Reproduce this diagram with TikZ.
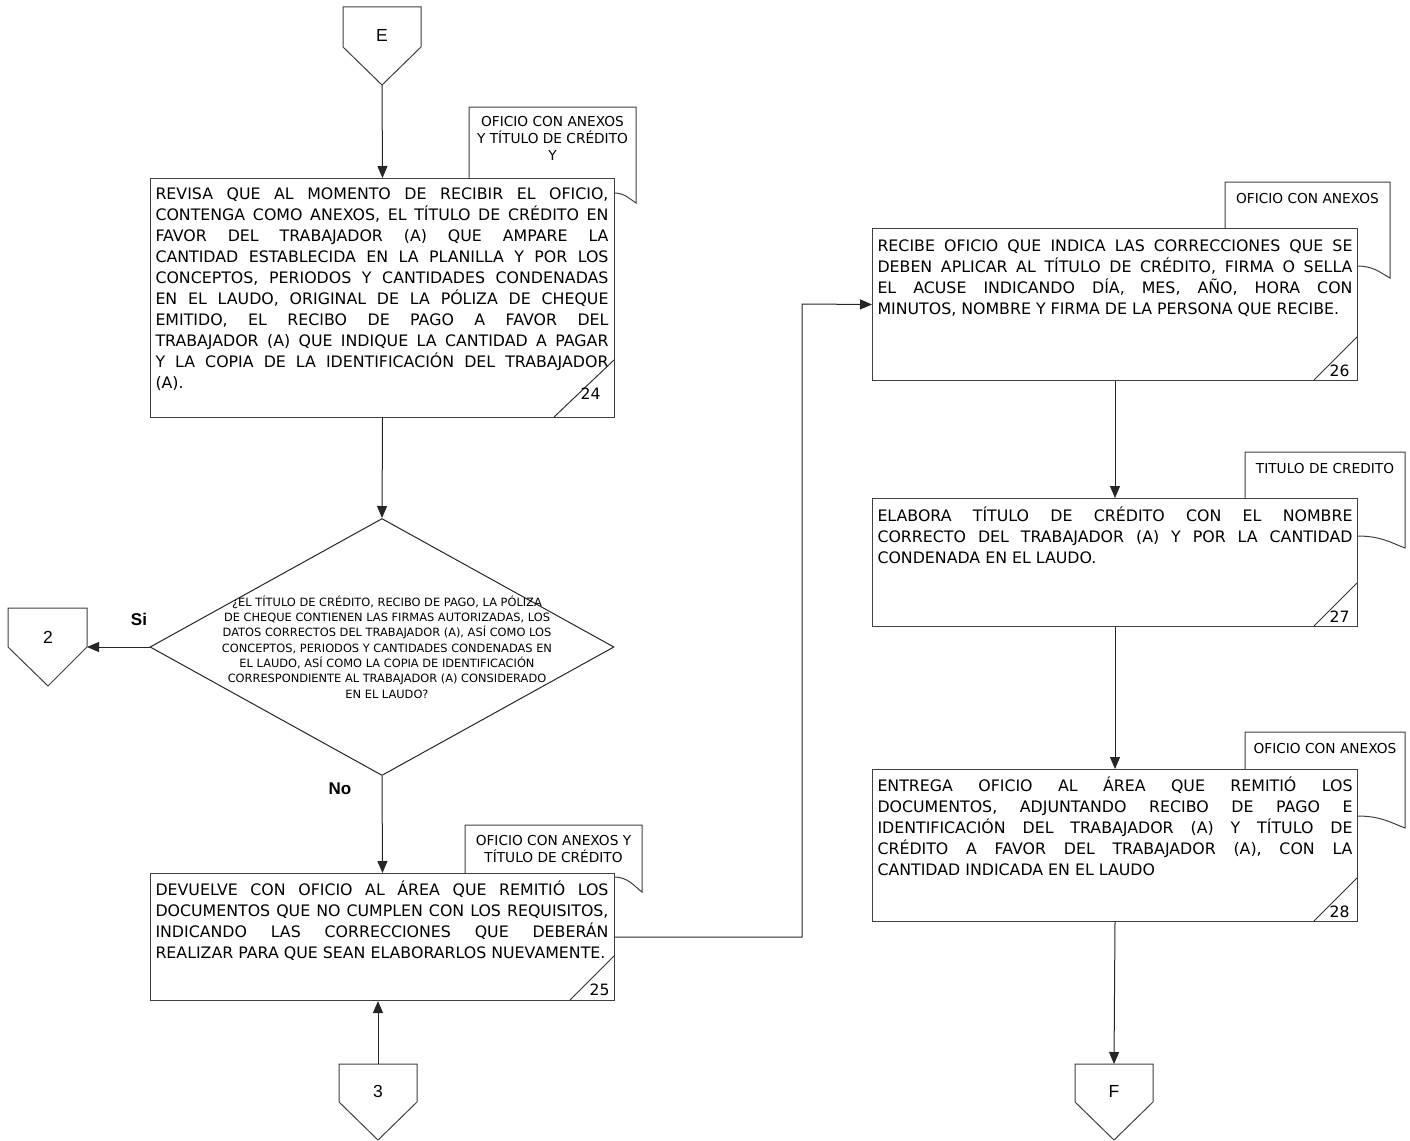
\documentclass[tikz,border=0pt]{standalone}
\usepackage{fontspec}
\setmainfont{DejaVu Sans}
\newfontfamily\arialfont{Liberation Sans}
\usetikzlibrary{shapes.geometric,arrows.meta}

\begin{document}
\begin{tikzpicture}[x=1pt, y=-1pt, line width=1pt,
  >={Triangle[length=12pt,width=10pt]},
  flowline/.style={draw=black!85, ->},
  procbox/.style={draw=black!75, fill=white, rectangle, inner sep=0pt, anchor=north west},
  proctext/.style={inner sep=0pt, anchor=base west, font=\fontsize{15.8}{21}\selectfont},
  doctag/.style={draw=black!75, fill=white},
  tagtext/.style={inner sep=0pt, anchor=north, align=center, font=\fontsize{13.7}{17}\selectfont},
  stepnum/.style={inner sep=0pt, anchor=base east, font=\fontsize{15.6}{18}\selectfont},
  offpage/.style={draw=black!75, fill=white},
  offlabel/.style={inner sep=0pt, font=\arialfont\fontsize{17.5}{20}\selectfont},
  answer/.style={inner sep=0pt, font=\arialfont\bfseries\fontsize{17}{20}\selectfont},
  decision/.style={draw=black!85, diamond, inner sep=0pt, minimum width=464pt, minimum height=257pt}]
  \useasboundingbox (0,0) rectangle (1410,1140);

  % documents behind the steps
  \draw[doctag] (469,107) -- (636,107) -- (636,203) .. controls (629.1,198.5) and (624.5,193) .. (614,193) -- (469,193) -- cycle;
  \node[tagtext] (t24) at (552.5,116) {OFICIO CON ANEXOS\\Y TÍTULO DE CRÉDITO\\Y};
  \draw[doctag] (465,825) -- (642,825) -- (642,892) .. controls (633.3,885.2) and (627.5,877) .. (614,877) -- (465,877) -- cycle;
  \node[tagtext] (t25) at (553.5,835) {OFICIO CON ANEXOS Y\\TÍTULO DE CRÉDITO};
  \draw[doctag] (1225,182) -- (1390,182) -- (1390,278) .. controls (1380.1,272.6) and (1373.5,266) .. (1357,266) -- (1225,266) -- cycle;
  \node[tagtext] (t26) at (1307.5,193) {OFICIO CON ANEXOS};
  \draw[doctag] (1245,452) -- (1405,452) -- (1405,548) .. controls (1390.6,542.6) and (1381,536) .. (1357,536) -- (1245,536) -- cycle;
  \node[tagtext] (t27) at (1325,463) {TITULO DE CREDITO};
  \draw[doctag] (1245,732) -- (1405,732) -- (1405,828) .. controls (1390.6,822.6) and (1381,816) .. (1357,816) -- (1245,816) -- cycle;
  \node[tagtext] (t28) at (1325,743) {OFICIO CON ANEXOS};

  % steps
  \node[procbox, minimum width=464pt, minimum height=239pt] (b24) at (150,178) {};
  \node[proctext] (x24) at (155,199) {\parbox[t]{453pt}{REVISA QUE AL MOMENTO DE RECIBIR EL OFICIO,\linebreak
    CONTENGA COMO ANEXOS, EL TÍTULO DE CRÉDITO EN\linebreak
    FAVOR DEL TRABAJADOR (A) QUE AMPARE LA\linebreak
    CANTIDAD ESTABLECIDA EN LA PLANILLA Y POR LOS\linebreak
    CONCEPTOS, PERIODOS Y CANTIDADES CONDENADAS\linebreak
    EN EL LAUDO, ORIGINAL DE LA PÓLIZA DE CHEQUE\linebreak
    EMITIDO, EL RECIBO DE PAGO A FAVOR DEL\linebreak
    TRABAJADOR (A) QUE INDIQUE LA CANTIDAD A PAGAR\linebreak
    Y LA COPIA DE LA IDENTIFICACIÓN DEL TRABAJADOR\linebreak
    (A).}};
  \draw[draw=black!80] (554,417) -- (614,360);
  \node[stepnum] (n24) at (601,399) {24};

  \node[procbox, minimum width=464pt, minimum height=127pt] (b25) at (150,873) {};
  \node[proctext] (x25) at (155,895) {\parbox[t]{453pt}{DEVUELVE CON OFICIO AL ÁREA QUE REMITIÓ LOS\linebreak
    DOCUMENTOS QUE NO CUMPLEN CON LOS REQUISITOS,\linebreak
    INDICANDO LAS CORRECCIONES QUE DEBERÁN\linebreak
    REALIZAR PARA QUE SEAN ELABORARLOS NUEVAMENTE.}};
  \draw[draw=black!80] (570,1000) -- (614,956);
  \node[stepnum] (n25) at (610,995) {25};

  \node[procbox, minimum width=485pt, minimum height=152pt] (b26) at (872,228) {};
  \node[proctext] (x26) at (877,251) {\parbox[t]{475pt}{RECIBE OFICIO QUE INDICA LAS CORRECCIONES QUE SE\linebreak
    DEBEN APLICAR AL TÍTULO DE CRÉDITO, FIRMA O SELLA\linebreak
    EL ACUSE INDICANDO DÍA, MES, AÑO, HORA CON\linebreak
    MINUTOS, NOMBRE Y FIRMA DE LA PERSONA QUE RECIBE.}};
  \draw[draw=black!80] (1314,380) -- (1357,337);
  \node[stepnum] (n26) at (1350,376) {26};

  \node[procbox, minimum width=485pt, minimum height=128pt] (b27) at (872,498) {};
  \node[proctext] (x27) at (877,521) {\parbox[t]{475pt}{ELABORA TÍTULO DE CRÉDITO CON EL NOMBRE\linebreak
    CORRECTO DEL TRABAJADOR (A) Y POR LA CANTIDAD\linebreak
    CONDENADA EN EL LAUDO.}};
  \draw[draw=black!80] (1314,626) -- (1357,583);
  \node[stepnum] (n27) at (1350,622) {27};

  \node[procbox, minimum width=485pt, minimum height=152pt] (b28) at (872,769) {};
  \node[proctext] (x28) at (877,791) {\parbox[t]{475pt}{ENTREGA OFICIO AL ÁREA QUE REMITIÓ LOS\linebreak
    DOCUMENTOS, ADJUNTANDO RECIBO DE PAGO E\linebreak
    IDENTIFICACIÓN DEL TRABAJADOR (A) Y TÍTULO DE\linebreak
    CRÉDITO A FAVOR DEL TRABAJADOR (A), CON LA\linebreak
    CANTIDAD INDICADA EN EL LAUDO}};
  \draw[draw=black!80] (1314,921) -- (1357,878);
  \node[stepnum] (n28) at (1350,917) {28};

  % decision
  \node[decision] (dec) at (382,647) {};
  \node[align=center, inner sep=0pt, font=\fontsize{11.4}{15.3}\selectfont] (qtext) at (387,647)
    {¿EL TÍTULO DE CRÉDITO, RECIBO DE PAGO, LA PÓLIZA\\
     DE CHEQUE CONTIENEN LAS FIRMAS AUTORIZADAS, LOS\\
     DATOS CORRECTOS DEL TRABAJADOR (A), ASÍ COMO LOS\\
     CONCEPTOS, PERIODOS Y CANTIDADES CONDENADAS EN\\
     EL LAUDO, ASÍ COMO LA COPIA DE IDENTIFICACIÓN\\
     CORRESPONDIENTE AL TRABAJADOR (A) CONSIDERADO\\
     EN EL LAUDO?};
  \node[answer] (si) at (139,619) {Si};
  \node[answer] (no) at (340,789) {No};

  % off-page connectors
  \draw[offpage] (343,7) -- (421,7) -- (421,47) -- (382,85) -- (343,47) -- cycle;
  \node[offlabel] (cE) at (382,35) {E};
  \coordinate (cE-tip) at (382,85);
  \draw[offpage] (8,608) -- (87,608) -- (87,647) -- (48,686) -- (8,647) -- cycle;
  \node[offlabel] (c2) at (48,637) {2};
  \coordinate (c2-in) at (87,647);
  \draw[offpage] (339,1064) -- (417,1064) -- (417,1102) -- (378,1140) -- (339,1102) -- cycle;
  \node[offlabel] (c3) at (378,1091) {3};
  \coordinate (c3-top) at (378,1064);
  \draw[offpage] (1075,1064) -- (1153,1064) -- (1153,1102) -- (1114,1140) -- (1075,1102) -- cycle;
  \node[offlabel] (cF) at (1114,1091) {F};
  \coordinate (cF-top) at (1114,1064);

  % flow
  \coordinate (bend) at (802,304);
  \draw[flowline] (cE-tip) -- (b24.north);
  \draw[flowline] (b24.south) -- (dec.north);
  \draw[flowline] (dec.west) -- (c2-in);
  \draw[flowline] (dec.south) -- (b25.north);
  \draw[flowline] (c3-top) -- (c3-top |- b25.south);
  \draw[flowline] (b25.east) -| (bend) -- (b26.west);
  \draw[flowline] (b26.south) -- (b27.north);
  \draw[flowline] (b27.south) -- (b28.north);
  \draw[flowline] (b28.south) -- (cF-top);
\end{tikzpicture}
\end{document}
